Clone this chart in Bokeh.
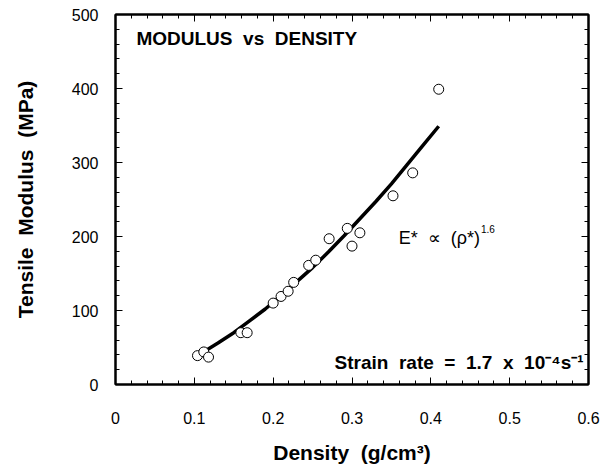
from bokeh.plotting import figure
from bokeh.models import Range1d, FixedTicker, LinearAxis, Label, CustomJSTickFormatter
from bokeh.embed import file_html
from bokeh.resources import INLINE

# measured data points (density g/cm^3, tensile modulus MPa)
density = [0.104, 0.112, 0.118, 0.159, 0.167, 0.200, 0.210, 0.219, 0.226,
           0.245, 0.254, 0.271, 0.294, 0.300, 0.310, 0.352, 0.377, 0.410]
modulus = [39, 44, 37, 70, 70, 110, 119, 126, 138,
           161, 168, 197, 211, 187, 205, 255, 286, 399]

# fitted curve
fit_density = [0.11, 0.13, 0.15, 0.17, 0.19, 0.21, 0.23, 0.25, 0.27,
               0.29, 0.31, 0.33, 0.35, 0.37, 0.39, 0.41]
fit_modulus = [43, 56, 70, 86, 102, 120, 139, 158, 179,
               201, 224, 247, 271, 297, 323, 349]

x_ticks = [0, 0.1, 0.2, 0.3, 0.4, 0.5, 0.6]
x_tick_labels = ["0", "0.1", "0.2", "0.3", "0.4", "0.5", "0.6"]
x_minor = [round(i * 0.02, 2) for i in range(31)]
y_ticks = [0, 100, 200, 300, 400, 500]
y_minor = [i * 20 for i in range(26)]

FONT = "Liberation Sans"
SP = "\u00a0"

p = figure(width=608, height=470, output_backend="svg", toolbar_location=None,
           x_range=Range1d(0, 0.6), y_range=Range1d(0, 500),
           min_border_left=115, min_border_right=20, min_border_top=14,
           min_border_bottom=86)
p.grid.visible = False
p.outline_line_color = "black"
p.outline_line_width = 2
p.background_fill_color = "white"
p.border_fill_color = "white"

xt = FixedTicker(ticks=x_ticks, minor_ticks=x_minor)
yt = FixedTicker(ticks=y_ticks, minor_ticks=y_minor)


def style(ax, labels=True):
    ax.axis_line_color = "black"
    ax.axis_line_width = 2
    ax.major_tick_in = 7
    ax.major_tick_out = 0
    ax.minor_tick_in = 4
    ax.minor_tick_out = 0
    ax.major_tick_line_color = "black"
    ax.minor_tick_line_color = "black"
    ax.major_tick_line_width = 1
    ax.minor_tick_line_width = 1
    if labels:
        ax.major_label_text_font = FONT
        ax.major_label_text_font_size = "16px"
        ax.major_label_text_color = "black"
    else:
        ax.formatter = CustomJSTickFormatter(code="return ''")
        ax.major_label_standoff = 0


xa = p.xaxis[0]
xa.ticker = xt
xa.major_label_overrides = {t: l for t, l in zip(x_ticks, x_tick_labels)}
style(xa)
xa.major_label_standoff = 27
xa.axis_label = "Density" + SP * 2 + "(g/cm³)"
xa.axis_label_text_font = FONT
xa.axis_label_text_font_style = "bold"
xa.axis_label_text_font_size = "21px"
xa.axis_label_text_color = "black"
xa.axis_label_standoff = 14

ya = p.yaxis[0]
ya.ticker = yt
style(ya)
ya.major_label_standoff = 17
ya.axis_label = "Tensile" + SP * 2 + "Modulus" + SP * 2 + "(MPa)"
ya.axis_label_text_font = FONT
ya.axis_label_text_font_style = "bold"
ya.axis_label_text_font_size = "21px"
ya.axis_label_text_color = "black"
ya.axis_label_standoff = 32

top = LinearAxis(ticker=xt)
style(top, labels=False)
p.add_layout(top, "above")
right = LinearAxis(ticker=yt)
style(right, labels=False)
p.add_layout(right, "right")

p.line(fit_density, fit_modulus, line_color="black", line_width=3.5)
p.scatter(density, modulus, marker="circle", size=10, fill_color="white",
          line_color="black", line_width=1)

p.add_layout(Label(x=0.0266, y=467, text="MODULUS" + SP * 2 + "vs" + SP * 2 + "DENSITY",
                   text_font=FONT, text_font_style="bold", text_font_size="19px",
                   text_baseline="middle", text_align="left", text_color="black"))
p.add_layout(Label(x=0.5937, y=29.7,
                   text="Strain" + SP * 2 + "rate" + SP * 2 + "=" + SP * 2 + "1.7" + SP * 2
                        + "x" + SP * 2 + "10⁻⁴s⁻¹",
                   text_font=FONT, text_font_style="bold", text_font_size="19px",
                   text_baseline="alphabetic", text_align="right", text_color="black"))
p.add_layout(Label(x=0.4625, y=197.7, text="E*" + SP * 2 + "∝" + SP * 2 + "(ρ*)",
                   text_font=FONT, text_font_size="18px",
                   text_baseline="alphabetic", text_align="right", text_color="black"))
p.add_layout(Label(x=0.4635, y=210, text="1.6",
                   text_font=FONT, text_font_size="10px",
                   text_baseline="alphabetic", text_align="left", text_color="black"))

open("out.html", "w").write(file_html(p, INLINE))
